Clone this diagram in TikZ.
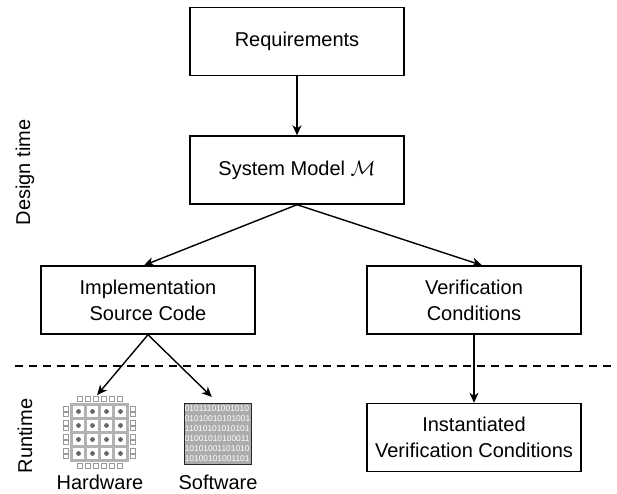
\documentclass[tikz,border=0pt]{standalone}
\usepackage{fontspec}
\setmainfont{Liberation Sans}
\usetikzlibrary{arrows.meta,calc}
\begin{document}
\begin{tikzpicture}[x=1pt,y=-1pt,
  box/.style={draw,line width=1.4pt,minimum width=214pt,minimum height=68pt,inner sep=1pt,align=center,font=\fontsize{20}{26}\selectfont},
  lbl/.style={font=\fontsize{20}{24}\selectfont,inner sep=0pt},
  arr/.style={line width=1.4pt,-{Stealth[length=10pt,width=9pt,inset=3pt]}},
  pin/.style={draw=gray!80,fill=white,line width=0.6pt},
  bits/.style={font=\fontsize{8.4}{9.9}\selectfont,text=white,align=left,inner sep=0pt}
]
\fill[white] (0,0) rectangle (617,493);
\useasboundingbox (0,0) rectangle (617,493);

\node[box] (req) at (297,41.5) {Requirements};
\node[box] (sys) at (297,170) {System Model $\mathcal{M}$};
\node[box] (impl) at (148,300) {Implementation\\Source Code};
\node[box] (ver) at (474,300) {Verification\\Conditions};
\node[box] (inst) at (474,437.5) {Instantiated\\Verification Conditions};

% dashed separator
\coordinate (dl) at (15,366);
\coordinate (dr) at (612,366);
\draw[line width=1.5pt,dash pattern=on 8pt off 6pt] (dl) -- (dr);

% side labels
\node[lbl,rotate=90] (dt) at (25,172.5) {Design time};
\node[lbl,rotate=90] (rt) at (25,436) {Runtime};

% hardware chip
\node[minimum width=72pt,minimum height=72pt,inner sep=0pt] (hw) at (99.5,432) {};
\fill[gray!60] (70,403) rectangle (129,462);
\foreach \i in {0,...,3}{
  \foreach \j in {0,...,3}{
    \fill[white] ({73+14*\i},{406+14*\j}) rectangle ++(11,11);
    \fill[black!60] ({78.5+14*\i},{411.5+14*\j}) circle (2.4);
  }
}
\foreach \k in {0,...,5}{
  \draw[pin] ({77+8*\k},396.5) rectangle ++(5,5);
  \draw[pin] ({77+8*\k},463.5) rectangle ++(5,5);
}
\foreach \j in {0,...,3}{
  \draw[pin] (63.5,{406.5+14*\j}) rectangle ++(5,4.5);
  \draw[pin] (63.5,{412+14*\j}) rectangle ++(5,4.5);
  \draw[pin] (130.5,{406.5+14*\j}) rectangle ++(5,4.5);
  \draw[pin] (130.5,{412+14*\j}) rectangle ++(5,4.5);
}
\node[lbl] (hwl) at (100,482) {Hardware};

% software
\node[draw=gray!30!black,fill=gray!65,line width=1pt,minimum width=67pt,minimum height=61pt,inner sep=0pt] (sw) at (217.5,433.5) {};
\node[bits] at (sw.center) {01011101001010\\01010010101001\\11010101010101\\01001010100011\\10101001101010\\10100101001101};
\node[lbl] (swl) at (218,482) {Software};

% connectors
\coordinate (implin) at ($(impl.north)+(-4,0)$);
\coordinate (verin) at ($(ver.north)+(8,0)$);
\draw[arr] (req) -- (sys);
\draw[arr] (sys.south) -- (implin);
\draw[arr] (sys.south) -- (verin);
\draw[arr,shorten >=1pt] (impl.south) -- ($(hw.north)+(-3,0)$);
\draw[arr,shorten >=8pt] (impl.south) -- (sw.north);
\draw[arr] (ver) -- (inst);
\end{tikzpicture}
\end{document}
